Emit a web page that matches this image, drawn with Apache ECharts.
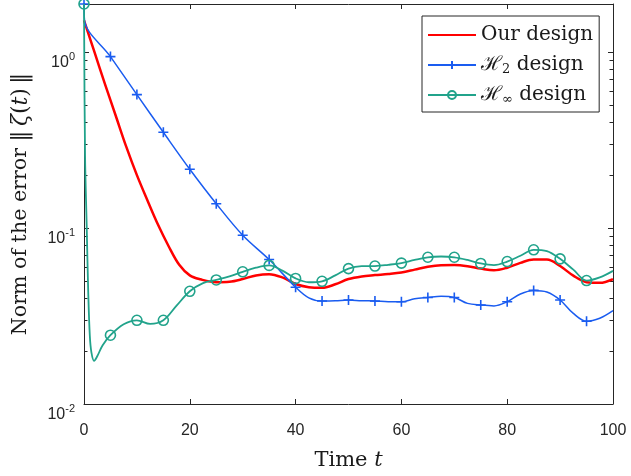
<!DOCTYPE html>
<html><head><meta charset="utf-8">
<script src="https://cdn.jsdelivr.net/npm/echarts@6/dist/echarts.min.js"></script>
<style>html,body{margin:0;padding:0;background:#fff}#c{width:631px;height:476px}</style>
</head><body><div id="c"></div>
<script>
// ---- data ----
const xTicks = [0, 20, 40, 60, 80, 100];
const yMin = 0.01, yMax = 1.875;
const seriesNames = ['Our design', 'H2 design', 'Hinf design'];

const ourT = [0,2,4,6,8,10,12,14,16,18,20,22,25,27.5,30,32.5,35,37.5,40,42.5,45,47.5,50,52.5,55,57.5,60,62.5,65,67.5,70,72.5,75,77.5,80,82.5,85,87.5,90,92.5,95,97.5,100];
const ourV = [1.515,0.995,0.653,0.4345,0.289,0.1998,0.1434,0.1043,0.0788,0.0618,0.0538,0.0511,0.0492,0.0495,0.0513,0.0538,0.0547,0.0524,0.0481,0.0461,0.0457,0.0479,0.0513,0.0531,0.0540,0.0548,0.0559,0.0580,0.0603,0.0615,0.0616,0.0607,0.0588,0.0575,0.0595,0.0634,0.0662,0.0662,0.0608,0.0536,0.0492,0.0488,0.0513];

const h2T = [0,0.1,5,10,15,20,25,30,35,40,42.5,45,47.5,50,52.5,55,57.5,60,62.5,65,67.5,70,72.5,75,77.5,80,82.5,85,87.5,90,92.5,95,97.5,100];
const h2V = [1.875,1.515,0.942,0.573,0.350,0.2157,0.1375,0.0910,0.0662,0.0461,0.0401,0.0385,0.0386,0.0390,0.0386,0.0385,0.0381,0.0381,0.0396,0.0403,0.0409,0.0403,0.0373,0.0365,0.0361,0.0381,0.0422,0.0442,0.0433,0.0390,0.0327,0.0295,0.0307,0.0339];

const hinfT = [0,0.2,0.5,0.8,1.1,1.4,1.9,2.5,3.5,5,7.5,10,12.5,15,17.5,20,22.5,25,27.5,30,32.5,35,37.5,40,42.5,45,47.5,50,52.5,55,57.5,60,62.5,65,67.5,70,72.5,75,77.5,80,82.5,85,87.5,90,92.5,95,97.5,100];
const hinfV = [1.875,0.2577,0.1056,0.0433,0.0244,0.01965,0.01758,0.01867,0.0215,0.0246,0.0284,0.0299,0.0285,0.0299,0.0362,0.0437,0.0486,0.0507,0.0531,0.0564,0.0595,0.0613,0.0573,0.0517,0.0492,0.0498,0.0538,0.0588,0.0607,0.0608,0.0618,0.0632,0.0659,0.0682,0.0689,0.0682,0.0659,0.0629,0.0616,0.0645,0.0696,0.0752,0.0739,0.0668,0.0580,0.0503,0.0524,0.0571];

const markerStep = 5;
// ---- chart ----
const AX = '#262626';
const RED = '#ff0000', BLUE = '#1a5cf0', TEAL = '#21a38b';
const PLUS = 'path://M5,0L5,10M0,5L10,5';
const NOFILL = 'rgba(255,255,255,0)';

function build(ts, vs) {
  return ts.map((t, i) => (t % markerStep === 0 && t < 100) ? [t, vs[i]] : { value: [t, vs[i]], symbol: 'none' });
}

const chart = echarts.init(document.getElementById('c'), null, { renderer: 'canvas' });
const grid = { left: 84, top: 4, width: 529, height: 411 };

function yLabel(v) {
  const l = Math.log10(v), e = Math.round(l);
  if (Math.abs(l - e) > 1e-6) return '';
  return '{b|10}{s|' + e + '}';
}

const commonX = { type: 'value', min: 0, max: 100, interval: 20,
  axisLine: { show: true, onZero: false, lineStyle: { color: AX, width: 1 } },
  axisTick: { show: true, inside: true, length: 5, lineStyle: { color: AX } },
  splitLine: { show: false } };
const commonY = { type: 'log', logBase: 10, min: yMin, max: yMax,
  axisLine: { show: true, onZero: false, lineStyle: { color: AX, width: 1 } },
  axisTick: { show: true, inside: true, length: 5, lineStyle: { color: AX } },
  splitLine: { show: false }, minorTick: { show: false } };

chart.setOption({
  animation: false,
  backgroundColor: '#fff',
  grid: grid,
  xAxis: [
    Object.assign({}, commonX, { position: 'bottom',
      axisLabel: { color: AX, fontFamily: 'Liberation Sans', fontSize: 16, margin: 19 },
      name: '{r|Time }{i|t}', nameLocation: 'middle', nameGap: 46,
      nameTextStyle: { color: '#1a1a1a', rich: {
        r: { fontFamily: 'DejaVu Serif', fontSize: 21 },
        i: { fontFamily: 'DejaVu Serif', fontSize: 21, fontStyle: 'italic' } } } }),
    Object.assign({}, commonX, { position: 'top', axisLabel: { show: false } })
  ],
  yAxis: [
    Object.assign({}, commonY, { position: 'left',
      axisLabel: { formatter: yLabel, margin: 9, padding: [18, 0, 0, 0],
        rich: {
          b: { fontFamily: 'Liberation Sans', fontSize: 16, color: AX, lineHeight: 19, verticalAlign: 'bottom' },
          s: { fontFamily: 'Liberation Sans', fontSize: 11, color: AX, lineHeight: 11, verticalAlign: 'top' } } },
      name: '{r|Norm of the error }{n|‖\u2009}{ni|ζ}{n|(}{ni|t}{n|)\u2009‖}', nameLocation: 'middle', nameGap: 52,
      nameTextStyle: { color: '#1a1a1a', rich: {
        r: { fontFamily: 'DejaVu Serif', fontSize: 20.6 },
        n: { fontFamily: 'DejaVu Serif', fontSize: 22 },
        ni: { fontFamily: 'DejaVu Serif', fontSize: 22, fontStyle: 'italic' } } } }),
    Object.assign({}, commonY, { position: 'right', axisLabel: { show: false } })
  ],
  legend: {
    orient: 'vertical', left: 422, top: 16, padding: [8, 6, 6, 5], itemGap: 8,
    itemWidth: 48, itemHeight: 10,
    borderColor: AX, borderWidth: 1, backgroundColor: '#fff',
    data: [
      { name: seriesNames[0], itemStyle: { opacity: 0 } },
      { name: seriesNames[1] },
      { name: seriesNames[2] }
    ],
    formatter: function (n) {
      if (n === 'H2 design') return '{h|ℋ}{sub|2}{r| design}';
      if (n === 'Hinf design') return '{h|ℋ}{sub|∞}{r| design}';
      return '{r|' + n + '}';
    },
    textStyle: { color: '#1a1a1a', fontFamily: 'DejaVu Serif', fontSize: 20, lineHeight: 22,
      rich: {
        r: { fontFamily: 'DejaVu Serif', fontSize: 20, lineHeight: 22 },
        h: { fontFamily: 'DejaVu Serif', fontSize: 20, lineHeight: 22 },
        sub: { fontFamily: 'DejaVu Serif', fontSize: 13, lineHeight: 13, verticalAlign: 'top', padding: [9, 0, 0, 0] } } }
  },
  series: [
    { name: seriesNames[0], type: 'line', data: build(ourT, ourV), symbol: 'none', smooth: 0.35,
      lineStyle: { color: RED, width: 2.5 }, itemStyle: { color: RED }, z: 2 },
    { name: seriesNames[1], type: 'line', data: build(h2T, h2V), symbol: PLUS, symbolSize: 10, showAllSymbol: true, smooth: 0.35,
      lineStyle: { color: BLUE, width: 1.5 }, itemStyle: { color: BLUE, borderColor: BLUE, borderWidth: 1.6 }, z: 3 },
    { name: seriesNames[2], type: 'line', data: build(hinfT, hinfV), symbol: 'circle', symbolSize: 10, showAllSymbol: true, smooth: 0.35,
      lineStyle: { color: TEAL, width: 1.8 }, itemStyle: { color: NOFILL, borderColor: TEAL, borderWidth: 1.6 }, z: 4 }
  ]
});

// log minor ticks on both sides (positions from the library's y scale)
const minors = [];
[-2, -1, 0].forEach(e => { for (let k = 2; k <= 9; k++) { const v = k * Math.pow(10, e); if (v < yMax) minors.push(v); } });
const gx0 = grid.left, gx1 = grid.left + grid.width;
const els = [];
minors.forEach(v => {
  const y = Math.round(chart.convertToPixel({ yAxisIndex: 0 }, v)) + 0.5;
  els.push({ type: 'line', shape: { x1: gx0, y1: y, x2: gx0 + 3.5, y2: y }, style: { stroke: AX, lineWidth: 1 }, silent: true });
  els.push({ type: 'line', shape: { x1: gx1, y1: y, x2: gx1 - 3.5, y2: y }, style: { stroke: AX, lineWidth: 1 }, silent: true });
});
chart.setOption({ graphic: els });
</script>
</body></html>
